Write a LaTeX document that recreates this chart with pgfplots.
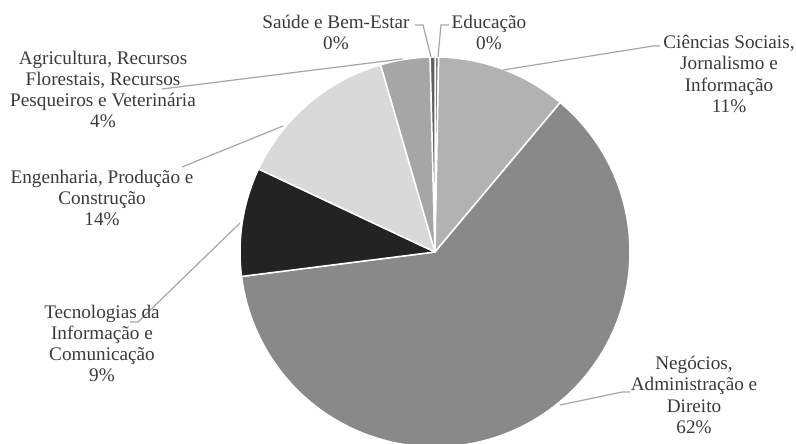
\documentclass[border=0pt]{standalone}
\usepackage{fontspec}
\setmainfont{Liberation Serif}
\usepackage{pgfplots}
\usepackage{pgfplotstable}
\pgfplotsset{compat=1.18}
\definecolor{cEdu}{HTML}{7F7F7F}
\definecolor{cCie}{HTML}{B2B2B2}
\definecolor{cNeg}{HTML}{898989}
\definecolor{cTic}{HTML}{232323}
\definecolor{cEng}{HTML}{D9D9D9}
\definecolor{cAgr}{HTML}{A6A6A6}
\definecolor{cSau}{HTML}{5F5F5F}
\definecolor{txt}{HTML}{3A3A3A}
\definecolor{lead}{HTML}{A6A6A6}
\tikzset{lbl/.style={font=\fontsize{9.6bp}{10.65bp}\selectfont, text=txt, align=center, inner sep=0pt}}
\pgfplotstableread{
label value color
Educacao 0.3 cEdu
Ciencias 10.8 cCie
Negocios 61.9 cNeg
TIC 9.0 cTic
Engenharia 13.5 cEng
Agricultura 4.1 cAgr
Saude 0.4 cSau
}\piedata
\begin{document}
\begin{tikzpicture}
\begin{axis}[
  scale only axis, width=398bp, height=222bp,
  xmin=0, xmax=796, ymin=0, ymax=444, y dir=reverse,
  hide axis, clip=false,
]
\def\cum{0}
\pgfplotsforeachungrouped \i in {0,...,6}{
  \pgfplotstablegetelem{\i}{value}\of\piedata \let\slv\pgfplotsretval
  \pgfplotstablegetelem{\i}{color}\of\piedata \let\slc\pgfplotsretval
  \pgfmathsetmacro\sla{\cum*3.6}
  \pgfmathsetmacro\slb{(\cum+\slv)*3.6}
  \edef\temp{\noexpand\addplot[fill=\slc, draw=white, line width=0.75bp, line join=round, domain=\sla:\slb, samples=120] ({435+195*sin(x)},{252-195*cos(x)}) -- (axis cs:435,252) -- cycle;}
  \temp
  \pgfmathsetmacro\cum{\cum+\slv}
}
% leader lines
\draw[lead, line width=0.6bp] (axis cs:415,25) -- (axis cs:423,25) -- (axis cs:431,57);
\draw[lead, line width=0.6bp] (axis cs:438,57) -- (axis cs:441,25) -- (axis cs:449,25);
\draw[lead, line width=0.6bp] (axis cs:503,70) -- (axis cs:653,46) -- (axis cs:660,46);
\draw[lead, line width=0.6bp] (axis cs:560,405) -- (axis cs:622,392) -- (axis cs:630,392);
\draw[lead, line width=0.6bp] (axis cs:240,223) -- (axis cs:138,322) -- (axis cs:130,322);
\draw[lead, line width=0.6bp] (axis cs:283,126) -- (axis cs:182,167);
\draw[lead, line width=0.6bp] (axis cs:402,59) -- (axis cs:162,89);
% labels
\node[lbl] at (axis cs:336,32.5) {Saúde e Bem-Estar\\0\%};
\node[lbl] at (axis cs:489,32.5) {Educação\\0\%};
\node[lbl] at (axis cs:729,74) {Ciências Sociais,\\Jornalismo e\\Informação\\11\%};
\node[lbl] at (axis cs:694,395) {Negócios,\\Administração e\\Direito\\62\%};
\node[lbl] at (axis cs:102,343.5) {Tecnologias da\\Informação e\\Comunicação\\9\%};
\node[lbl] at (axis cs:102,198) {Engenharia, Produção e\\Construção\\14\%};
\node[lbl] at (axis cs:103,89.5) {Agricultura, Recursos\\Florestais, Recursos\\Pesqueiros e Veterinária\\4\%};
\end{axis}
\pgfresetboundingbox
\path (current axis.south west) rectangle (current axis.north east);
\end{tikzpicture}
\end{document}
